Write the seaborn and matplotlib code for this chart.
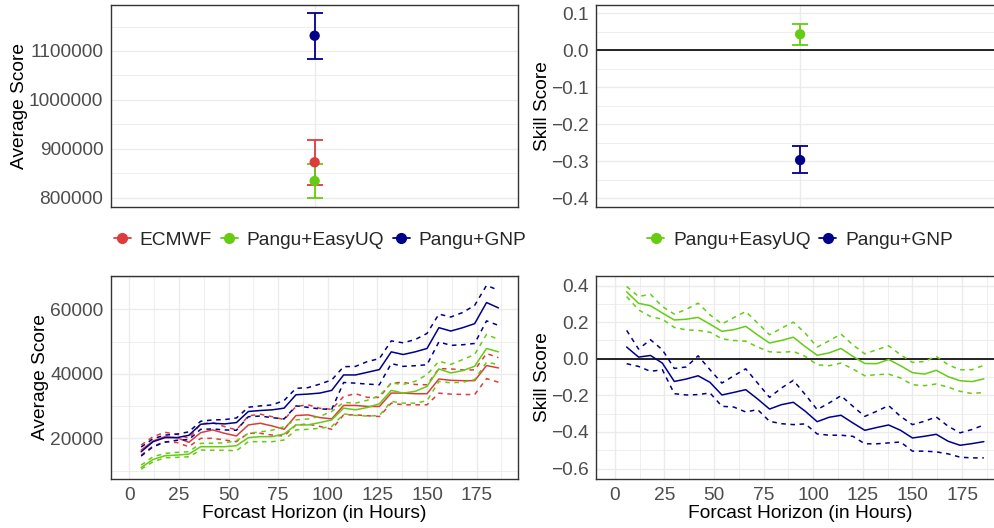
import numpy as np
import pandas as pd
import matplotlib
matplotlib.use('Agg')
import matplotlib.pyplot as plt
from matplotlib.lines import Line2D
from matplotlib.ticker import MultipleLocator, FuncFormatter
import seaborn as sns

sns.set_theme(style='white')
plt.rcParams['font.family'] = ['Liberation Sans', 'DejaVu Sans']

# Couleurs des modeles
colors = {'ECMWF': '#DD3C3C', 'Pangu+EasyUQ': '#66CC11', 'Pangu+GNP': '#00008B'}

# Resume (panneaux du haut)
avg_models = ['ECMWF', 'Pangu+EasyUQ', 'Pangu+GNP']
avg_mean = [872900, 834700, 1131200]
avg_low = [826500, 799400, 1083700]
avg_high = [918400, 868800, 1176900]

skill_models = ['Pangu+EasyUQ', 'Pangu+GNP']
skill_mean = [0.0432, -0.297]
skill_low = [0.0154, -0.332]
skill_high = [0.071, -0.259]

# Horizons de prevision (heures)
hours = [6, 12, 18, 24, 30, 36, 42, 48, 54, 60, 66, 72, 78, 84, 90, 96,
         102, 108, 114, 120, 126, 132, 138, 144, 150, 156, 162, 168, 174, 180, 186]

# Average score par horizon
ecmwf_avg = [16360, 19170, 20520, 20210, 18750, 21760, 22600, 21560, 20730, 24150, 24670,
             23840, 22800, 27060, 27270, 26440, 26020, 30200, 30200, 29870, 29870, 34020,
             34020, 33820, 33820, 38390, 37970, 37870, 37870, 42550, 41820]
ecmwf_upper = [17920, 20520, 21870, 21250, 20000, 24470, 24880, 23630, 22600, 26960, 27480,
               26700, 25800, 29870, 30390, 29300, 29000, 32990, 33820, 32700, 32680, 37140,
               37350, 36700, 36600, 41610, 41500, 41200, 41200, 46280, 45000]
ecmwf_lower = [14800, 17610, 18960, 18700, 17400, 20000, 20000, 19480, 18960, 21560, 21560,
               21000, 20730, 24150, 24400, 23700, 22800, 27270, 27270, 27000, 26750, 30910,
               30390, 30390, 30390, 34000, 33700, 33600, 33540, 38500, 37400]

easyuq_avg = [10960, 13450, 14600, 14800, 15110, 17400, 17400, 17400, 17710, 20210, 20520,
              20520, 21350, 24150, 24150, 24880, 25710, 29350, 28830, 29560, 30700, 34850,
              34020, 34540, 36100, 41510, 40260, 40990, 42340, 47840, 46800]
easyuq_upper = [11690, 14290, 15320, 15640, 15850, 18440, 18500, 18600, 19270, 21560, 22000,
                22500, 23630, 25710, 26000, 26800, 28310, 31120, 30900, 31800, 33190, 37140,
                36700, 37660, 39740, 43900, 42900, 44400, 45970, 52210, 50650]
easyuq_lower = [10440, 12730, 13970, 14100, 14290, 16360, 16300, 16300, 16150, 18960, 18960,
                18960, 19480, 22600, 22800, 23110, 23630, 27580, 27100, 26900, 27060, 31430,
                30900, 30900, 31640, 37660, 37200, 37400, 38180, 43580, 42860]

gnp_avg = [15840, 18960, 20210, 20210, 20930, 24360, 24670, 24470, 24880, 28310, 28620,
           28830, 29350, 33500, 33710, 34020, 34860, 39640, 39640, 40470, 41300, 46800,
           45970, 46800, 47840, 54290, 53250, 54290, 55530, 62080, 60420]
gnp_upper = [17300, 19900, 21000, 21300, 22000, 25300, 25700, 25800, 26300, 29640, 30050,
             30360, 31710, 35500, 35700, 36800, 38100, 42200, 42300, 43800, 44700, 50200,
             49600, 50600, 52500, 58500, 57600, 59000, 61200, 67400, 65900]
gnp_lower = [14500, 17400, 18800, 19400, 19600, 22800, 22900, 22600, 22500, 26700, 26900,
             26400, 26000, 30050, 29600, 29100, 29000, 37300, 37100, 36800, 36600, 43170,
             42300, 42500, 42800, 49900, 48800, 49000, 49400, 56400, 55000]

# Skill score par horizon
easyuq_skill = [0.366, 0.303, 0.29, 0.25, 0.212, 0.216, 0.226, 0.189, 0.15, 0.159, 0.177,
                0.13, 0.086, 0.1, 0.118, 0.066, 0.019, 0.032, 0.056, 0.013, -0.026, -0.027,
                -0.004, -0.038, -0.076, -0.084, -0.063, -0.098, -0.12, -0.125, -0.11]
easyuq_skill_upper = [0.395, 0.34, 0.353, 0.285, 0.244, 0.27, 0.304, 0.24, 0.19, 0.225, 0.258,
                      0.195, 0.131, 0.167, 0.2, 0.14, 0.064, 0.098, 0.135, 0.076, 0.027, 0.049,
                      0.071, 0.022, -0.02, -0.015, 0.013, -0.033, -0.06, -0.06, -0.036]
easyuq_skill_lower = [0.34, 0.267, 0.231, 0.216, 0.171, 0.158, 0.155, 0.145, 0.109, 0.1, 0.096,
                      0.064, 0.038, 0.035, 0.04, 0.013, -0.033, -0.038, -0.024, -0.056, -0.093,
                      -0.087, -0.084, -0.105, -0.142, -0.147, -0.138, -0.155, -0.178, -0.19, -0.184]

gnp_skill = [0.064, 0.009, 0.018, -0.024, -0.124, -0.111, -0.093, -0.129, -0.198, -0.184, -0.169,
             -0.22, -0.275, -0.251, -0.238, -0.287, -0.344, -0.32, -0.309, -0.351, -0.391, -0.376,
             -0.362, -0.391, -0.433, -0.424, -0.413, -0.451, -0.473, -0.464, -0.453]
gnp_skill_upper = [0.155, 0.053, 0.104, 0.049, -0.053, -0.045, 0.016, -0.06, -0.133, -0.093, -0.055,
                   -0.133, -0.211, -0.16, -0.118, -0.196, -0.278, -0.242, -0.202, -0.26, -0.315,
                   -0.287, -0.256, -0.315, -0.36, -0.342, -0.318, -0.369, -0.405, -0.387, -0.362]
gnp_skill_lower = [-0.027, -0.042, -0.069, -0.06, -0.191, -0.198, -0.196, -0.187, -0.26, -0.264,
                   -0.291, -0.278, -0.342, -0.355, -0.36, -0.356, -0.411, -0.418, -0.418, -0.424,
                   -0.465, -0.465, -0.46, -0.455, -0.505, -0.505, -0.509, -0.52, -0.538, -0.542, -0.542]


def long_df(series):
    """Construit un DataFrame long (hour, value, model, kind)"""
    frames = []
    for model, kind, vals in series:
        frames.append(pd.DataFrame({'hour': hours, 'value': vals, 'model': model, 'kind': kind}))
    return pd.concat(frames, ignore_index=True)


df_avg = long_df([
    ('ECMWF', 'mean', ecmwf_avg), ('ECMWF', 'upper', ecmwf_upper), ('ECMWF', 'lower', ecmwf_lower),
    ('Pangu+EasyUQ', 'mean', easyuq_avg), ('Pangu+EasyUQ', 'upper', easyuq_upper),
    ('Pangu+EasyUQ', 'lower', easyuq_lower),
    ('Pangu+GNP', 'mean', gnp_avg), ('Pangu+GNP', 'upper', gnp_upper), ('Pangu+GNP', 'lower', gnp_lower),
])
df_skill = long_df([
    ('Pangu+EasyUQ', 'mean', easyuq_skill), ('Pangu+EasyUQ', 'upper', easyuq_skill_upper),
    ('Pangu+EasyUQ', 'lower', easyuq_skill_lower),
    ('Pangu+GNP', 'mean', gnp_skill), ('Pangu+GNP', 'upper', gnp_skill_upper),
    ('Pangu+GNP', 'lower', gnp_skill_lower),
])

FS = 13.8
GRID = '#EBEBEB'
TICK_TXT = '#4D4D4D'
BORDER = '#333333'

fig = plt.figure(figsize=(9.95, 5.28), dpi=100)
W, H = 995, 528


def add_ax(x0, y0, x1, y1):
    return fig.add_axes([x0 / W, 1 - y1 / H, (x1 - x0) / W, (y1 - y0) / H])


ax_tl = add_ax(111, 4.7, 518.3, 206.7)
ax_tr = add_ax(596.5, 4.7, 1003.7, 206.7)
ax_bl = add_ax(111, 275.7, 518.3, 479.3)
ax_br = add_ax(596.5, 275.7, 1003.7, 479.3)


def style_ax(ax):
    for sp in ax.spines.values():
        sp.set_color(BORDER)
        sp.set_linewidth(1.0)
    ax.set_axisbelow(True)
    ax.grid(True, which='major', color=GRID, linewidth=1.0)
    ax.grid(True, which='minor', color=GRID, linewidth=0.6)
    ax.tick_params(which='major', length=3.5, width=0.8, color=BORDER,
                   labelsize=FS, labelcolor=TICK_TXT, pad=2)
    ax.tick_params(which='minor', length=0)


plain = FuncFormatter(lambda v, p: f'{v:.0f}')

# --- Haut gauche : average score ---
for i, m in enumerate(avg_models):
    ax_tl.errorbar([0], [avg_mean[i]],
                   yerr=[[avg_mean[i] - avg_low[i]], [avg_high[i] - avg_mean[i]]],
                   fmt='none', ecolor=colors[m], elinewidth=1.3, capsize=6, capthick=1.3)
    sns.scatterplot(x=[0], y=[avg_mean[i]], color=colors[m], s=55, edgecolor='none',
                    ax=ax_tl, zorder=3)
ax_tl.set_xlim(-0.6, 0.6)
ax_tl.set_ylim(782200, 1194500)
ax_tl.set_xticks([0])
ax_tl.set_xticklabels([])
ax_tl.yaxis.set_major_locator(MultipleLocator(100000))
ax_tl.yaxis.set_minor_locator(MultipleLocator(50000))
ax_tl.yaxis.set_major_formatter(plain)
style_ax(ax_tl)
ax_tl.tick_params(axis='x', length=0)
ax_tl.set_ylabel('Average Score', fontsize=FS, color='black', labelpad=1)
ax_tl.set_xlabel('')

# --- Haut droite : skill score ---
ax_tr.axhline(0, color='black', linewidth=1.2, zorder=1.5)
for i, m in enumerate(skill_models):
    ax_tr.errorbar([0], [skill_mean[i]],
                   yerr=[[skill_mean[i] - skill_low[i]], [skill_high[i] - skill_mean[i]]],
                   fmt='none', ecolor=colors[m], elinewidth=1.3, capsize=6, capthick=1.3)
    sns.scatterplot(x=[0], y=[skill_mean[i]], color=colors[m], s=55, edgecolor='none',
                    ax=ax_tr, zorder=3)
ax_tr.set_xlim(-0.6, 0.6)
ax_tr.set_ylim(-0.423, 0.123)
ax_tr.set_xticks([0])
ax_tr.set_xticklabels([])
ax_tr.yaxis.set_major_locator(MultipleLocator(0.1))
ax_tr.yaxis.set_minor_locator(MultipleLocator(0.05))
style_ax(ax_tr)
ax_tr.tick_params(axis='x', length=0)
ax_tr.set_ylabel('Skill Score', fontsize=FS, color='black', labelpad=0)
ax_tr.set_xlabel('')

dash_map = {'mean': '', 'upper': (3, 3), 'lower': (3, 3)}

# --- Bas gauche ---
sns.lineplot(data=df_avg, x='hour', y='value', hue='model', style='kind',
             palette=colors, dashes=dash_map, estimator=None, linewidth=1.1,
             legend=False, ax=ax_bl)
ax_bl.set_xlim(-9.2, 196)
ax_bl.set_ylim(7300, 70400)
ax_bl.xaxis.set_major_locator(MultipleLocator(25))
ax_bl.xaxis.set_minor_locator(MultipleLocator(12.5))
ax_bl.yaxis.set_major_locator(MultipleLocator(20000))
ax_bl.yaxis.set_minor_locator(MultipleLocator(10000))
ax_bl.yaxis.set_major_formatter(plain)
style_ax(ax_bl)
ax_bl.set_xlabel('Forcast Horizon (in Hours)', fontsize=FS, color='black', labelpad=1)
ax_bl.set_ylabel('Average Score', fontsize=FS, color='black', labelpad=1)

# --- Bas droite ---
ax_br.axhline(0, color='black', linewidth=1.2, zorder=1.5)
sns.lineplot(data=df_skill, x='hour', y='value', hue='model', style='kind',
             palette=colors, dashes=dash_map, estimator=None, linewidth=1.1,
             legend=False, ax=ax_br)
ax_br.set_xlim(-9.2, 196)
ax_br.set_ylim(-0.659, 0.454)
ax_br.xaxis.set_major_locator(MultipleLocator(25))
ax_br.xaxis.set_minor_locator(MultipleLocator(12.5))
ax_br.yaxis.set_major_locator(MultipleLocator(0.2))
ax_br.yaxis.set_minor_locator(MultipleLocator(0.1))
style_ax(ax_br)
ax_br.set_xlabel('Forcast Horizon (in Hours)', fontsize=FS, color='black', labelpad=1)
ax_br.set_ylabel('Skill Score', fontsize=FS, color='black', labelpad=0)


# Legendes
def handles(models):
    return [Line2D([0], [0], color=colors[m], marker='o', markersize=7, linewidth=1.3)
            for m in models]


fig.legend(handles(avg_models), avg_models, loc='center', bbox_to_anchor=(320 / W, 1 - 240 / H),
           ncol=3, frameon=False, fontsize=FS, handlelength=0.9, handletextpad=0.45,
           columnspacing=0.45)
fig.legend(handles(skill_models), skill_models, loc='center', bbox_to_anchor=(800 / W, 1 - 240 / H),
           ncol=2, frameon=False, fontsize=FS, handlelength=0.9, handletextpad=0.45,
           columnspacing=0.45)

fig.savefig('out.png', dpi=100)
